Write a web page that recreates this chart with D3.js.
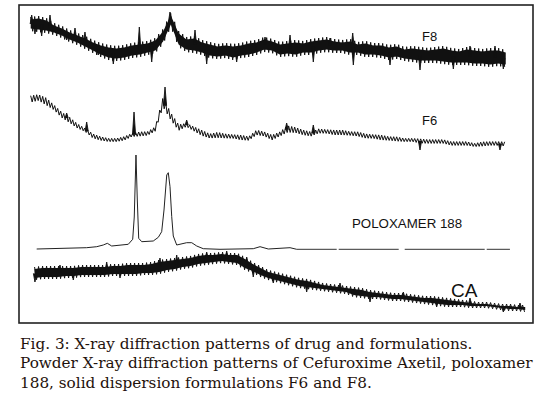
<!DOCTYPE html>
<html>
<head>
<meta charset="utf-8">
<script src="https://cdn.jsdelivr.net/npm/d3@7"></script>
<style>
  body { margin: 0; background: #fff; }
  svg { display: block; }
</style>
</head>
<body>
<svg width="551" height="399"></svg>
<script>
// canvas and plot frame
canvas_w = 551;
canvas_h = 399;
frame = {x0: 19, y0: 5, x1: 533, y1: 323};

// 2-theta range of the scan (degrees)
theta_min = 4;
theta_max = 70;
step = 1;
// one screen pixel in degrees (used to draw the noise texture)
px_deg = (theta_max - theta_min) / (frame.x1 - frame.x0);

// F8: band envelope (upper / lower), one value per degree from 5.5
const f8Start = 5.5;
const f8Hi = [306,307,305,300,297,293,290,287,283,280,278,277,278,280,281,282,285,294,310,292,
  286,287,283,281,279,280,279,280,282,283,286,284,281,282,283,282,284,285,286,284,
  283,284,281,282,280,280,278,279,276,277,276,275,276,277,275,274,276,275,274,275,275,273];
const f8Lo = [292,291,290,288,285,281,278,274,270,266,263,262,263,265,266,268,270,279,296,276,
  271,270,268,265,264,265,263,265,266,268,271,270,266,267,266,268,268,270,271,270,
  270,268,268,266,266,265,263,264,262,261,260,260,260,259,258,258,258,257,257,256,257,256];
const f8Spikes = [[5.63,308],[6.05,289],[6.91,287],[7.98,308],[10.12,283],[11.19,295],[12.47,291],
  [14.18,268],[16.11,259],[19.45,296],[21.04,261],[23.39,311],[26.6,293],[28.1,259],[31.95,261],
  [35.59,286],[38.8,288],[41.79,261],[43.94,285],[46.85,290],[46.93,258],[51.64,258],[55.49,253],
  [59.77,254],[61.91,277],[65.12,277],[66.19,254]];

// F6
const f6Start = 5.5;
const f6Hi = [230,231,228,220,213,208,201,196,191,188,186,186,188,191,193,193,198,230,213,201,
  201,198,195,191,193,191,190,190,188,195,193,190,193,200,198,195,193,196,195,195,
  195,193,193,191,190,190,188,188,186,186,186,185,185,185,183,183,183,181,183,183,183,183];
const f6Lo = [218,220,215,211,203,198,193,190,183,181,180,180,181,185,185,186,190,212,200,190,
  195,190,185,183,183,183,183,181,181,186,185,181,185,188,188,186,185,188,188,186,
  186,186,185,183,183,181,181,180,180,180,178,178,178,178,176,176,176,175,175,176,176,175];
const f6Spikes = [[10.12,210],[12.69,201],[18.77,211],[22.75,236],[25.53,203],[38.37,200],
  [41.79,198],[55.49,173],[65.76,173]];

// POLOXAMER 188 (smooth trace)
const poloxTheta = [6.27,12.69,13.98,14.82,15.34,15.9,18.03,18.6,18.8,19.02,19.19,19.37,19.76,
  21.24,21.89,22.32,22.62,22.97,23.17,23.39,23.61,23.81,24.25,25.53,26.18,26.82,27.66,29.81,
  34.08,34.95,36.01,38.8,39.66,67.04];
const poloxCounts = [74,75.3,76.3,78,79.7,77,78.7,83.7,106,168,123,84.7,81.3,
  82,85.7,91.3,113,148,150.3,136.3,106.3,87,78,80.3,80.3,77,74.3,73.7,
  74.3,76.3,74,75.3,73.7,73.7];

// CA (cefuroxime axetil)
const caStart = 6;
const caHi = [56,57,57,57,57,57,58,58,58,58,59,59,60,60,60,61,63,64,65,66,67,69,70,70,71,70,70,
  66,61,57,53,51,49,47,45,44,42,40,39,38,37,36,35,33,32,31,30,30,29,28,27,27,26,25,24,23,22,
  21,21,20,19,19,18,18];
const caLo = [43,44,44,44,45,45,46,46,46,46,47,47,47,47,48,48,49,51,52,54,55,57,58,59,60,59,58,
  53,50,46,43,41,39,37,35,34,33,32,31,30,29,26,25,24,24,23,22,22,21,20,19,18,17,16,16,16,15,
  15,15,14,13,12,12,11];
const caSpikes = [[6.05,41],[9.26,58],[10.97,43],[15.26,61],[16.97,45],[22.1,65],[24.25,68],
  [28.1,71],[30.67,72],[33.24,66],[34.08,46],[36.65,40],[40.94,31],[45.22,40],[49.07,21],
  [53.35,31],[57.63,16],[61.91,25],[66.19,11],[68.33,20]];

const captionLines = [
  "Fig. 3: X-ray diffraction patterns of drug and formulations.",
  "Powder X-ray diffraction patterns of Cefuroxime Axetil, poloxamer",
  "188, solid dispersion formulations F6 and F8."
];

const svg = d3.select("svg");
svg.append("rect").attr("width", canvas_w).attr("height", canvas_h).attr("fill", "#fff");

const x = d3.scaleLinear().domain([theta_min, theta_max]).range([frame.x0, frame.x1]);
const y = d3.scaleLinear().domain([0, frame.y1 - frame.y0]).range([frame.y1, frame.y0]);

// frame
svg.append("rect")
  .attr("x", frame.x0).attr("y", frame.y0)
  .attr("width", frame.x1 - frame.x0).attr("height", frame.y1 - frame.y0)
  .attr("fill", "none").attr("stroke", "#222").attr("stroke-width", 1.6);

// helper: turns start + hi/lo arrays into rows
function rows(start, hi, lo) {
  return hi.map(function(h, i) { return {t: start + i * step, hi: h, lo: lo[i]}; });
}

// fine zigzag between upper and lower envelope (drawing the dense noise of the scan)
function zigzag(data, sub, amp) {
  const ts = data.map(function(d) { return d.t; });
  const hiS = d3.scaleLinear().domain(ts).range(data.map(function(d) { return d.hi; }));
  const loS = d3.scaleLinear().domain(ts).range(data.map(function(d) { return d.lo; }));
  const pts = [];
  const t0 = ts[0], t1 = ts[ts.length - 1];
  let k = 0;
  for (let t = t0; t <= t1 + 1e-9; t += sub, k++) {
    const m = (hiS(t) + loS(t)) / 2, h = (hiS(t) - loS(t)) / 2 * amp;
    pts.push([x(t), y(k % 2 ? m - h : m + h)]);
  }
  return d3.line()(pts);
}

function drawNoisy(data, spikes, opts) {
  const g = svg.append("g");
  if (opts.fill) {
    g.append("path")
      .datum(data)
      .attr("d", d3.area()
        .x(function(d) { return x(d.t); })
        .y0(function(d) { return y(d.lo + opts.inset); })
        .y1(function(d) { return y(d.hi - opts.inset); }))
      .attr("fill", "#111");
  }
  g.append("path")
    .attr("d", zigzag(data, opts.sub, opts.amp))
    .attr("fill", "none")
    .attr("stroke", "#111")
    .attr("stroke-width", opts.width)
    .attr("stroke-linejoin", "bevel");
  // sharp spikes sticking out of the band
  const mid = d3.scaleLinear()
    .domain(data.map(function(d) { return d.t; }))
    .range(data.map(function(d) { return (d.hi + d.lo) / 2; }));
  g.selectAll("path.spike")
    .data(spikes)
    .join("path")
      .attr("class", "spike")
      .attr("d", function(d) {
        return d3.line()([[x(d[0] - 0.2), y(mid(d[0]))], [x(d[0]), y(d[1])], [x(d[0] + 0.2), y(mid(d[0]))]]);
      })
      .attr("fill", "#111")
      .attr("stroke", "#111")
      .attr("stroke-width", 0.9);
}

drawNoisy(rows(f8Start, f8Hi, f8Lo), f8Spikes, {fill: true, inset: 2.5, width: 1, sub: 2 * px_deg, amp: 1});
drawNoisy(rows(f6Start, f6Hi, f6Lo), f6Spikes, {fill: false, inset: 0, width: 1, sub: 1.5 * px_deg, amp: 0.55});
drawNoisy(rows(caStart, caHi, caLo), caSpikes, {fill: true, inset: 2, width: 1, sub: 2 * px_deg, amp: 1});

// poloxamer line: solid up to ~40 deg, broken/faint beyond as in the scan
const polox = poloxTheta.map(function(t, i) { return [t, poloxCounts[i]]; });
const poloxLine = d3.line()
  .x(function(d) { return x(d[0]); })
  .y(function(d) { return y(d[1]); });
svg.append("path")
  .datum(polox.filter(function(d) { return d[0] <= 39.7; }))
  .attr("d", poloxLine)
  .attr("fill", "none").attr("stroke", "#222").attr("stroke-width", 1);
svg.append("path")
  .datum(polox.filter(function(d) { return d[0] >= 39.6; }))
  .attr("d", poloxLine)
  .attr("fill", "none").attr("stroke", "#333").attr("stroke-width", 1)
  .attr("stroke-dasharray", "40,2,60,6,80,2,40,2,10,3,6,3");

// trace labels
const labelFont = "Liberation Sans, Arial, sans-serif";
svg.append("text").attr("x", x(55.75)).attr("y", y(282)).text("F8")
  .attr("font-family", labelFont).attr("font-size", "13px").attr("fill", "#111");
svg.append("text").attr("x", x(55.75)).attr("y", y(198)).text("F6")
  .attr("font-family", labelFont).attr("font-size", "13px").attr("fill", "#111");
svg.append("text").attr("x", x(46.76)).attr("y", y(95)).text("POLOXAMER 188")
  .attr("font-family", labelFont).attr("font-size", "13.3px").attr("fill", "#111");
svg.append("text").attr("x", x(59.47)).attr("y", y(26)).text("CA")
  .attr("font-family", labelFont).attr("font-size", "19px").attr("fill", "#111");

// caption below the frame
const cap = svg.append("g").attr("id", "caption");
cap.selectAll("text")
  .data(captionLines)
  .join("text")
    .attr("x", 20)
    .attr("y", function(d, i) { return 348.5 + i * 19.5; })
    .text(function(d) { return d; })
    .attr("font-family", "DejaVu Serif, serif")
    .attr("font-size", "15px")
    .attr("fill", "#1f120c");
// fit the longest line to the width used in the figure
const w2 = cap.selectAll("text").nodes()[1].getComputedTextLength();
cap.selectAll("text").attr("font-size", (15 * 513 / w2) + "px");
</script>
</body>
</html>
